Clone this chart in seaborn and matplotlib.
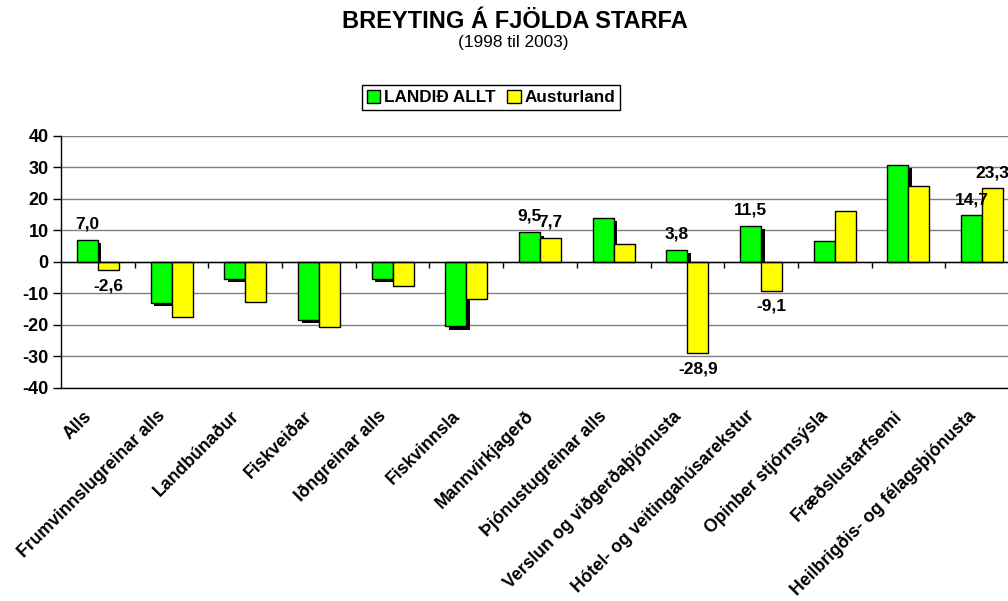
import numpy as np
import pandas as pd
import matplotlib
matplotlib.use("Agg")
import matplotlib.pyplot as plt
import matplotlib.patheffects as pe
from matplotlib.patches import Patch
from matplotlib.path import Path
from matplotlib.transforms import ScaledTranslation, IdentityTransform
import seaborn as sns

# ---- data ----
categories = ["Alls", "Frumvinnslugreinar alls", "Landbúnaður", "Fiskveiðar",
              "Iðngreinar alls", "Fiskvinnsla", "Mannvirkjagerð",
              "Þjónustugreinar alls", "Verslun og viðgerðaþjónusta",
              "Hótel- og veitingahúsarekstur", "Opinber stjórnsýsla",
              "Fræðslustarfsemi", "Heilbrigðis- og félagsþjónusta"]
landid_allt = [7.0, -13.0, -5.4, -18.3, -5.3, -20.4, 9.5, 14.0, 3.8, 11.5, 6.7, 30.8, 14.7]
austurland = [-2.6, -17.4, -12.7, -20.8, -7.7, -11.8, 7.7, 5.6, -28.9, -9.1, 16.0, 24.2, 23.3]
series_names = ["LANDIÐ ALLT", "Austurland"]
labeled_categories = ["Alls", "Mannvirkjagerð", "Verslun og viðgerðaþjónusta",
                      "Hótel- og veitingahúsarekstur", "Heilbrigðis- og félagsþjónusta"]
y_ticks = [-40, -30, -20, -10, 0, 10, 20, 30, 40]
title = "BREYTING Á FJÖLDA STARFA"
subtitle = "(1998 til 2003)"

colors = ["#00FF00", "#FFFF00"]

df = pd.DataFrame({
    "category": categories * 2,
    "value": landid_allt + austurland,
    "series": [series_names[0]] * len(categories) + [series_names[1]] * len(categories),
})

sns.set_theme(style="white")
plt.rcParams["font.family"] = ["Liberation Sans", "DejaVu Sans"]
plt.rcParams["text.color"] = "black"
plt.rcParams["xtick.color"] = "black"
plt.rcParams["ytick.color"] = "black"
plt.rcParams["xtick.labelcolor"] = "black"
plt.rcParams["ytick.labelcolor"] = "black"

fig = plt.figure(figsize=(10.08, 6.01), dpi=100)
W, H = 1008, 601
ax = fig.add_axes([61 / W, (H - 388) / H, (1019 - 61) / W, (388 - 135.7) / H])

sns.barplot(data=df, x="category", y="value", hue="series", order=categories,
            hue_order=series_names, palette=colors, width=0.57,
            edgecolor="black", linewidth=1, saturation=1, legend=False, ax=ax)


class BaselineShadow(pe.AbstractPathEffect):
    """Drop shadow (down-right) that does not extend past the zero baseline
    for bars above it, like the spreadsheet original."""

    def __init__(self, axes, offset=(2.6, -2.6)):
        super().__init__()
        self._ax = axes
        self._off = offset

    def draw_path(self, renderer, gc, tpath, affine, rgbFace=None):
        verts = affine.transform(tpath.vertices)
        y0 = self._ax.transData.transform((0, 0))[1]
        dx = renderer.points_to_pixels(self._off[0])
        dy = renderer.points_to_pixels(self._off[1])
        v = verts + np.array([dx, dy])
        if verts[:, 1].mean() > y0:
            v[:, 1] = np.maximum(v[:, 1], y0)
        gc0 = renderer.new_gc()
        gc0.copy_properties(gc)
        gc0.set_linewidth(0)
        gc0.set_foreground((0, 0, 0, 1))
        renderer.draw_path(gc0, Path(v, tpath.codes), IdentityTransform(), (0, 0, 0, 1))
        gc0.restore()


# drop shadow on green bars
for p in ax.containers[0]:
    p.set_path_effects([BaselineShadow(ax), pe.Normal()])

# data labels
def fmt(v):
    return f"{v:.1f}".replace(".", ",")

for cont, vals in zip(ax.containers, [landid_allt, austurland]):
    labs = [fmt(v) if c in labeled_categories else "" for c, v in zip(categories, vals)]
    ax.bar_label(cont, labels=labs, padding=6, fontsize=12.5, fontweight="bold",
                 color="black", clip_on=False)

ax.set_ylim(-40, 40)
ax.set_xlim(-0.5, len(categories) - 0.5)
ax.yaxis.grid(True, color="#808080", linewidth=1)
ax.set_axisbelow(True)
ax.set_xlabel("")
ax.set_ylabel("")

# zero line (top spine moved) -- do this before styling tick labels
ax.spines["top"].set_position(("data", 0))
for s in ["left", "bottom", "top"]:
    ax.spines[s].set_color("black")
    ax.spines[s].set_linewidth(1)
ax.spines["right"].set_visible(False)

ax.set_yticks(y_ticks)
ax.set_yticklabels([str(t) for t in y_ticks], fontsize=13, fontweight="bold")
ax.tick_params(axis="y", which="major", left=True, direction="out", length=6, width=1,
               color="black", pad=3)

ax.set_xticks(range(len(categories)))
ax.set_xticks(np.arange(len(categories) - 1) + 0.5, minor=True)
ax.tick_params(axis="x", which="major", bottom=True, top=False, length=0, pad=18.5)
ax.tick_params(axis="x", which="minor", top=True, bottom=False, direction="in",
               length=4, width=1, color="black")
ax.set_xticklabels(categories, rotation=45, ha="right", va="center",
                   rotation_mode="anchor", fontsize=12.7, fontweight="bold")
for lbl in ax.get_xticklabels():
    lbl.set_transform(lbl.get_transform() + ScaledTranslation(-9 / 100, 0, fig.dpi_scale_trans))

# titles
fig.text(0.511, 1 - 28 / H, title, ha="center", va="baseline", fontsize=17, fontweight="bold")
fig.text(0.509, 1 - 47 / H, subtitle, ha="center", va="baseline", fontsize=12.4)

# legend
handles = [Patch(facecolor=c, edgecolor="black", linewidth=1) for c in colors]
leg = fig.legend(handles, series_names, loc="center", bbox_to_anchor=(491 / W, 1 - 97.5 / H),
                 ncol=2, frameon=True, fancybox=False, edgecolor="black", framealpha=1,
                 prop={"weight": "bold", "size": 12.3}, handlelength=0.8, handleheight=0.8,
                 handletextpad=0.2, columnspacing=0.7, borderpad=0.3, borderaxespad=0)
leg.get_frame().set_linewidth(1)

fig.savefig("out.png", dpi=100)
